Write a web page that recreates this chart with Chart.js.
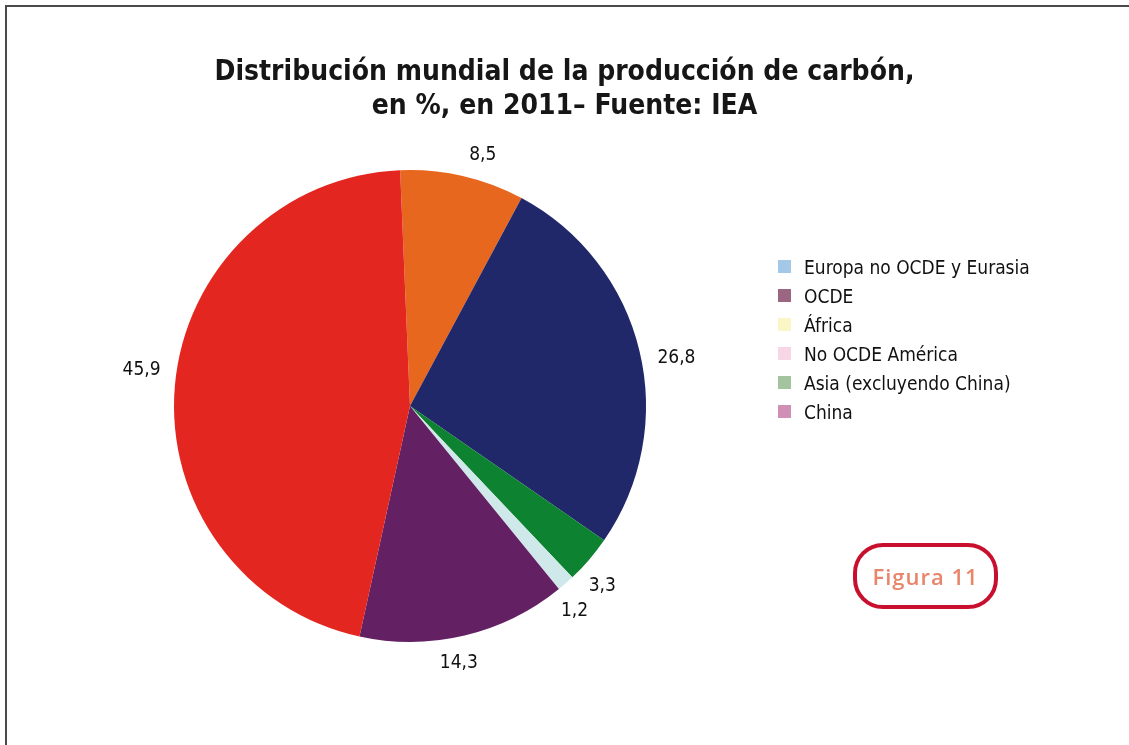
<!DOCTYPE html>
<html>
<head>
<meta charset="utf-8">
<script src="https://cdn.jsdelivr.net/npm/chart.js@4.4.0/dist/chart.umd.min.js"></script>
<style>
  html, body { margin: 0; padding: 0; background: #fff; }
  body { width: 1129px; height: 745px; position: relative; overflow: hidden; }
  .frame { position: absolute; left: 5px; top: 5px; right: -10px; bottom: -10px;
           border-left: 2px solid #4a4a4a; border-top: 2px solid #4a4a4a; }
  #wrap { position: absolute; left: 0; top: 0; width: 1129px; height: 745px; }
  .title { position: absolute; left: 0; width: 1129px; top: 54px; text-align: center;
           font-family: "DejaVu Sans Condensed", sans-serif;
           font-weight: bold; font-size: 28px; line-height: 34px; color: #161616; }
  #legend { position: absolute; left: 778px; top: 252px; margin: 0; padding: 0; list-style: none;
            font-family: "DejaVu Sans Condensed", sans-serif;
            font-size: 19px; color: #111; }
  #legend li { height: 29px; line-height: 22px; display: flex; align-items: center; }
  #legend span.box { width: 13px; height: 13px; margin-right: 13px; display: inline-block; }
  .fig { position: absolute; left: 853px; top: 543px; width: 137px; height: 58px;
         border: 4px solid #c8102e; border-radius: 30px; text-align: center;
         font-family: "Open Sans", sans-serif; font-weight: 600; font-size: 22px;
         line-height: 58px; color: #e8856b; letter-spacing: 1px; }
</style>
</head>
<body>
<div class="frame"></div>
<div id="wrap"><canvas id="pie" width="1129" height="745"></canvas></div>
<div class="title">Distribución mundial de la producción de carbón,<br>en %, en 2011– Fuente: IEA</div>
<ul id="legend"></ul>
<div class="fig">Figura 11</div>
<script>
// Data (clockwise from the top)
const regions = ['Europa no OCDE y Eurasia', 'OCDE', 'África', 'No OCDE América', 'Asia (excluyendo China)', 'China'];
const shares = [8.5, 26.8, 3.3, 1.2, 14.3, 45.9];
const sliceColors = ['#e8671e', '#202869', '#0d8230', '#cfe9ea', '#632063', '#e3261f'];
const legendColors = ['#a4c8e8', '#9a6682', '#fbf6c6', '#f7d6e6', '#a3c49e', '#d08fb4'];

// Legend as list
const legend = document.getElementById('legend');
regions.forEach((r, i) => {
  const li = document.createElement('li');
  li.innerHTML = `<span class="box" style="background:${legendColors[i]}"></span>${r}`;
  legend.appendChild(li);
});

// Value labels outside the slices (slightly turned clockwise, like the original)
const outsideLabels = {
  id: 'outsideLabels',
  afterDatasetsDraw(chart) {
    const ctx = chart.ctx;
    const meta = chart.getDatasetMeta(0);
    ctx.save();
    ctx.font = '19px "DejaVu Sans Condensed", sans-serif';
    ctx.fillStyle = '#111';
    ctx.textAlign = 'center';
    ctx.textBaseline = 'middle';
    meta.data.forEach((arc, i) => {
      const mid = (arc.startAngle + arc.endAngle) / 2 + 3 * Math.PI / 180;
      const text = shares[i].toFixed(1).replace('.', ',');
      const w = ctx.measureText(text).width;
      const d = arc.outerRadius + 16;
      const x = arc.x + Math.cos(mid) * (d + w / 2);
      const y = arc.y + Math.sin(mid) * (d + 9);
      ctx.fillText(text, x, y);
    });
    ctx.restore();
  }
};

new Chart(document.getElementById('pie'), {
  type: 'pie',
  data: {
    labels: regions,
    datasets: [{
      data: shares,
      backgroundColor: sliceColors,
      borderWidth: 0
    }]
  },
  options: {
    responsive: false,
    animation: false,
    rotation: -2.4,
    layout: { padding: { left: 174, right: 483, top: 170, bottom: 103 } },
    plugins: {
      legend: { display: false },
      tooltip: { enabled: false }
    }
  },
  plugins: [outsideLabels]
});
</script>
</body>
</html>
